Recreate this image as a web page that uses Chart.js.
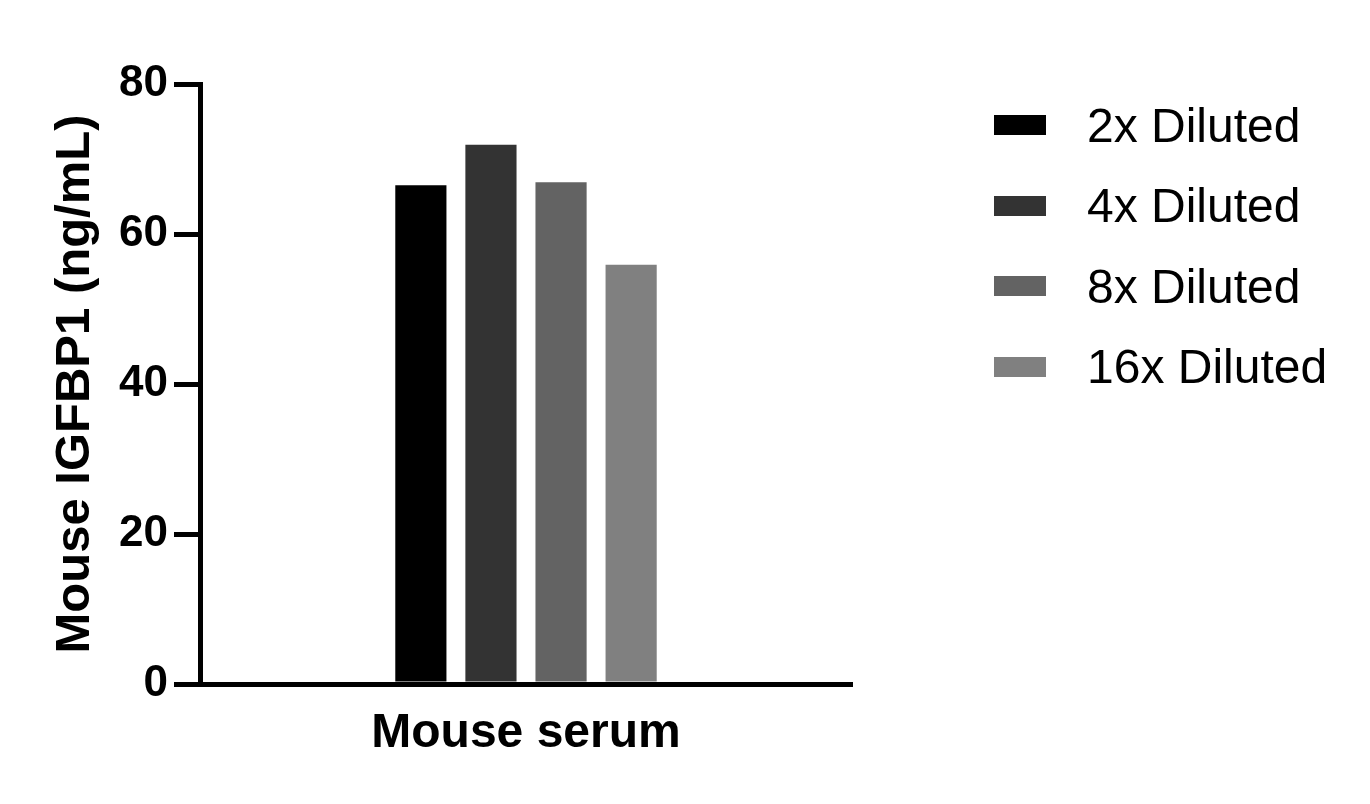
<!DOCTYPE html>
<html>
<head>
<meta charset="utf-8">
<script src="https://cdn.jsdelivr.net/npm/chart.js@4.4.1/dist/chart.umd.min.js"></script>
<style>
  html, body { margin: 0; padding: 0; background: #fff; }
  #wrap { position: relative; width: 1370px; height: 804px; }
  #legend { position: absolute; left: 994px; top: 85px; font-family: "Liberation Sans", Arial, sans-serif; font-size: 48px; color: #000; }
  .item { display: flex; align-items: center; height: 80.5px; }
  .box { width: 52px; height: 20px; margin-right: 41px; }
</style>
</head>
<body>
<div id="wrap">
  <canvas id="igfbpChart" width="1370" height="804"></canvas>
  <div id="legend"></div>
</div>
<script>
// values
const categories = ["Mouse serum"];
const seriesNames = ["2x Diluted", "4x Diluted", "8x Diluted", "16x Diluted"];
const seriesValues = [[66.5], [71.9], [66.9], [55.9]];
const seriesColors = ["#000000", "#333333", "#636363", "#808080"];
const yTicks = [0, 20, 40, 60, 80];

const font = "'Liberation Sans', Arial, sans-serif";

// legend as html, boxes + labels
const legendEl = document.getElementById("legend");
seriesNames.forEach((name, i) => {
  const row = document.createElement("div");
  row.className = "item";
  const box = document.createElement("span");
  box.className = "box";
  box.style.background = seriesColors[i];
  const label = document.createElement("span");
  label.textContent = name;
  row.appendChild(box);
  row.appendChild(label);
  legendEl.appendChild(row);
});

const ctx = document.getElementById("igfbpChart").getContext("2d");
new Chart(ctx, {
  type: "bar",
  data: {
    labels: categories,
    datasets: seriesNames.map((name, i) => ({
      label: name,
      data: seriesValues[i],
      backgroundColor: seriesColors[i],
      borderWidth: 0,
      categoryPercentage: 0.43,
      barPercentage: 0.73,
    })),
  },
  options: {
    responsive: false,
    animation: false,
    devicePixelRatio: 1,
    layout: { padding: { left: 0, top: 84, right: 518, bottom: 0 } },
    plugins: {
      legend: { display: false },
      tooltip: { enabled: false },
    },
    scales: {
      x: {
        grid: { display: false },
        border: { display: true, color: "#000", width: 5 },
        ticks: { display: false },
        title: {
          display: true,
          text: "Mouse serum",
          color: "#000",
          font: { family: font, size: 48, weight: "bold" },
          padding: { top: 0, bottom: 41 },
        },
        afterFit: (scale) => { scale.height = 120; },
      },
      y: {
        min: 0,
        max: 80,
        afterBuildTicks: (scale) => { scale.ticks = yTicks.map((v) => ({ value: v })); },
        grid: {
          display: true,
          drawOnChartArea: false,
          drawTicks: true,
          tickLength: 26,
          lineWidth: 5,
          color: "#000",
        },
        border: { display: true, color: "#000", width: 5 },
        ticks: {
          color: "#000",
          padding: 6,
          font: { family: font, size: 44, weight: "bold" },
        },
        title: {
          display: true,
          text: "Mouse IGFBP1 (ng/mL)",
          color: "#000",
          font: { family: font, size: 49, weight: "bold" },
          padding: { top: 46, bottom: 0 },
        },
        afterFit: (scale) => { scale.width = 200; },
      },
    },
  },
});
</script>
</body>
</html>
